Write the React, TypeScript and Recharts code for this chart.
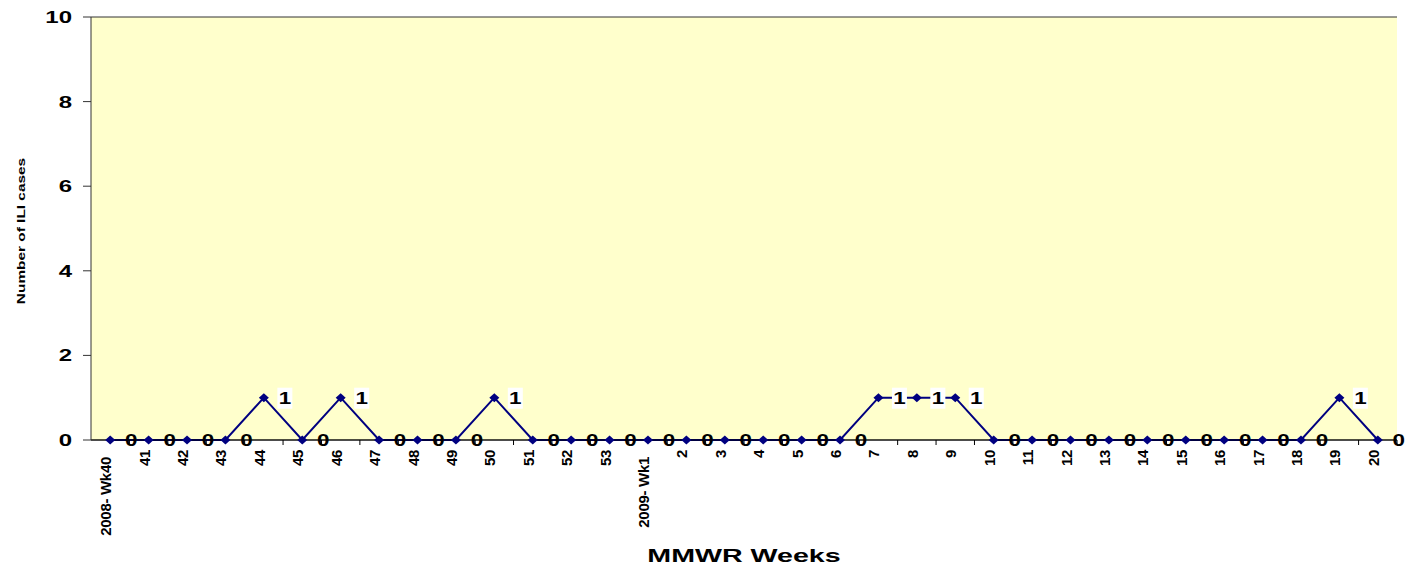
import {
    LineChart,
    Line,
    XAxis,
    YAxis,
    CartesianGrid,
    LabelList,
    Label,
} from 'recharts';

const WEEKS = [
    '2008- Wk40', '41', '42', '43', '44', '45', '46', '47', '48', '49', '50', '51', '52', '53',
    '2009- Wk1', '2', '3', '4', '5', '6', '7', '8', '9', '10',
    '11', '12', '13', '14', '15', '16', '17', '18', '19', '20',
];

const CASES = [
    0, 0, 0, 0, 1, 0, 1, 0, 0, 0, 1, 0, 0, 0,
    0, 0, 0, 0, 0, 0, 1, 1, 1, 0,
    0, 0, 0, 0, 0, 0, 0, 0, 1, 0,
];

const Y_TICKS = [0, 2, 4, 6, 8, 10];

const chartData = WEEKS.map((week, i) => ({ week, cases: CASES[i] }));

// layout
const WIDTH = 1414;
const HEIGHT = 565;
const PLOT_LEFT = 91;
const PLOT_RIGHT = 1397;
const PLOT_TOP = 17;
const PLOT_BOTTOM = 440;
const HALF_BAND = (PLOT_RIGHT - PLOT_LEFT) / WEEKS.length / 2;

const FONT = "Arial, 'Liberation Sans', sans-serif";
const NAVY = '#000080';

function WeekTick(props: any) {
    const { x, y, payload } = props;
    const label = String(payload.value);
    const shift = label.length > 3 ? 7 : 0;
    return (
        <g>
            <line
                x1={x + HALF_BAND}
                x2={x + HALF_BAND}
                y1={PLOT_BOTTOM}
                y2={PLOT_BOTTOM + 5}
                stroke="#000"
            />
            <text
                transform={`translate(${x + 1},${y + shift}) rotate(-90)`}
                textAnchor="end"
                fontFamily={FONT}
                fontWeight="bold"
                fontSize={15}
                letterSpacing={-0.3}
                fill="#000"
            >
                {label}
            </text>
        </g>
    );
}

function CaseTick(props: any) {
    const { x, y, payload } = props;
    return (
        <text
            transform={`translate(${x},${y + 6}) scale(1.5,1)`}
            textAnchor="end"
            fontFamily={FONT}
            fontWeight="bold"
            fontSize={16}
            fill="#000"
        >
            {payload.value}
        </text>
    );
}

function Diamond(props: any) {
    const { cx, cy } = props;
    if (cx == null || cy == null) return null;
    return (
        <polygon
            points={`${cx - 5},${cy} ${cx},${cy - 4.5} ${cx + 5},${cy} ${cx},${cy + 4.5}`}
            fill={NAVY}
        />
    );
}

function CaseLabel(props: any) {
    const { x, y, value } = props;
    const lx = x + 21;
    return (
        <g>
            {value > 0 && (
                <rect x={lx - 7.5} y={y - 10} width={15} height={21} fill="#fff" />
            )}
            <text
                transform={`translate(${lx},${y + 6}) scale(1.4,1)`}
                textAnchor="middle"
                fontFamily={FONT}
                fontWeight="bold"
                fontSize={16}
                fill="#000"
            >
                {value}
            </text>
        </g>
    );
}

export default function App() {
    return (
        <div style={{ position: 'absolute', left: 0, top: 0, background: '#fff' }}>
            <LineChart
                width={WIDTH}
                height={HEIGHT}
                data={chartData}
                margin={{ top: PLOT_TOP, right: WIDTH - PLOT_RIGHT, bottom: 0, left: 0 }}
            >
                <CartesianGrid
                    vertical={false}
                    stroke="#333"
                    fill="#FFFFCC"
                    fillOpacity={1}
                />
                <XAxis
                    dataKey="week"
                    interval={0}
                    padding={{ left: HALF_BAND, right: HALF_BAND }}
                    height={HEIGHT - PLOT_BOTTOM}
                    tickLine={false}
                    tickSize={0}
                    tickMargin={10}
                    tick={<WeekTick />}
                    axisLine={{ stroke: '#000' }}
                >
                    <Label
                        content={() => (
                            <text
                                transform={`translate(${(PLOT_LEFT + PLOT_RIGHT) / 2},562) scale(1.59,1)`}
                                textAnchor="middle"
                                fontFamily={FONT}
                                fontWeight="bold"
                                fontSize={18}
                                fill="#000"
                            >
                                MMWR Weeks
                            </text>
                        )}
                    />
                </XAxis>
                <YAxis
                    yAxisId="left"
                    width={PLOT_LEFT}
                    domain={[0, 10]}
                    ticks={Y_TICKS}
                    tickSize={8}
                    tickMargin={11}
                    tick={<CaseTick />}
                    tickLine={{ stroke: '#333' }}
                    axisLine={{ stroke: '#333' }}
                >
                    <Label
                        content={() => (
                            <text
                                transform={`translate(25,231) rotate(-90) scale(1.4,1)`}
                                textAnchor="middle"
                                fontFamily={FONT}
                                fontWeight="bold"
                                fontSize={11}
                                fill="#000"
                            >
                                Number of ILI cases
                            </text>
                        )}
                    />
                </YAxis>
                <YAxis
                    yAxisId="right"
                    orientation="right"
                    width={0}
                    domain={[0, 10]}
                    tick={false}
                    tickLine={false}
                    axisLine={{ stroke: '#666' }}
                />
                <Line
                    yAxisId="left"
                    type="linear"
                    dataKey="cases"
                    stroke={NAVY}
                    strokeWidth={2}
                    dot={<Diamond />}
                    activeDot={false}
                    isAnimationActive={false}
                >
                    <LabelList dataKey="cases" content={<CaseLabel />} />
                </Line>
            </LineChart>
        </div>
    );
}
